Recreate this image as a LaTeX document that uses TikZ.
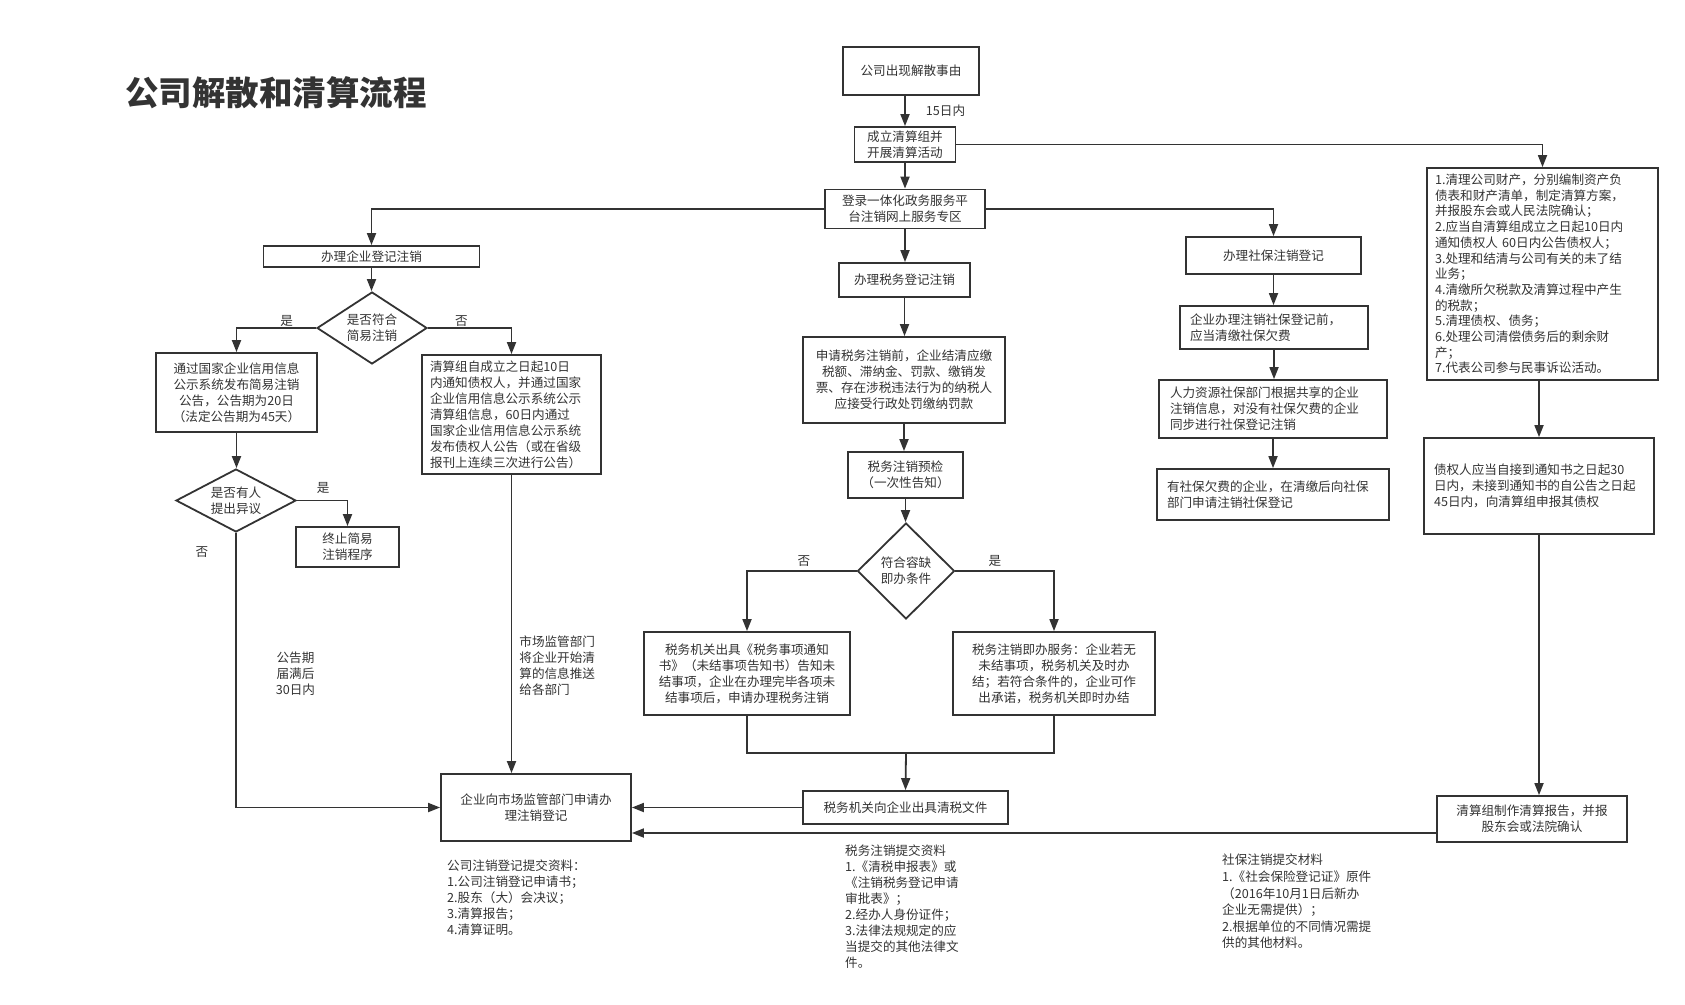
\documentclass[tikz,border=0pt]{standalone}
\usepackage{fontspec}
\newfontfamily\cjk{Noto Sans CJK SC}
\usetikzlibrary{shapes.geometric,positioning,arrows.meta}
\definecolor{ink}{HTML}{333333}
\newcommand{\boxfont}{\cjk\fontsize{12.6}{16}\selectfont}
\tikzset{>={Triangle[length=12pt,width=9pt]}}
\tikzset{
  box/.style={draw=ink, line width=1.8pt, fill=white, text=ink, font=\boxfont, inner xsep=4pt, inner ysep=2pt, align=center},
  lbox/.style={box, align=left},
  wh/.style 2 args={minimum width=#1pt, minimum height=#2pt},
  choice/.style={diamond, draw=ink, line width=1.8pt, fill=white, text=ink, font=\boxfont, inner sep=0pt, align=center},
  flow/.style={draw=ink, line width=1.8pt, ->},
  link/.style={draw=ink, line width=1.8pt},
  lbl/.style={text=ink, font=\boxfont, inner sep=1pt},
  note/.style={text=ink, font=\boxfont, align=left, inner sep=0pt, anchor=north west},
}

\begin{document}
\begin{tikzpicture}[x=1pt,y=-1pt]
\useasboundingbox (0,0) rectangle (1685,1004);

\node[text=ink, font=\cjk\bfseries\fontsize{33.5}{34}\selectfont] (title) at (276,93) {公司解散和清算流程};

\node[box, wh={136}{48}] (start) at (911,71) {公司出现解散事由};
\node[box, wh={101}{35}] (group) at (905,144.5) {成立清算组并\\开展清算活动};
\node[box, wh={160}{39}] (portal) at (905,209) {登录一体化政务服务平\\台注销网上服务专区};

\node[box, wh={216}{21}] (bizreg) at (371.5,256.5) {办理企业登记注销};
\node[choice, wh={110}{72}, aspect=1.5] (simple) at (372,328) {是否符合\\简易注销};
\node[box, wh={161}{79}] (notice) at (236.5,392.5) {通过国家企业信用信息\\公示系统发布简易注销\\公告，公告期为20日\\（法定公告期为45天）};
\node[lbox, text width=163pt, inner xsep=8pt, wh={179}{119}] (creditor) at (511.5,414.5) {清算组自成立之日起10日\\内通知债权人，并通过国家\\企业信用信息公示系统公示\\清算组信息，60日内通过\\国家企业信用信息公示系统\\发布债权人公告（或在省级\\报刊上连续三次进行公告）};
\node[choice, wh={120}{63}, aspect=1.9] (objection) at (236,500.5) {是否有人\\提出异议};
\node[box, wh={103}{40}] (stop) at (347.5,547) {终止简易\\注销程序};
\node[box, wh={190}{67}] (cancel) at (536,807.5) {企业向市场监管部门申请办\\理注销登记};

\node[box, wh={131}{34}] (tax) at (904.5,280) {办理税务登记注销};
\node[box, wh={202}{86}] (taxapply) at (904,380) {申请税务注销前，企业结清应缴\\税额、滞纳金、罚款、缴销发\\票、存在涉税违法行为的纳税人\\应接受行政处罚缴纳罚款};
\node[box, wh={115}{46}] (precheck) at (905.5,475) {税务注销预检\\（一次性告知）};
\node[choice, wh={97}{96}, aspect=1] (fast) at (906,571) {符合容缺\\即办条件};
\node[box, wh={206}{83}] (pending) at (747,673.5) {税务机关出具《税务事项通知\\书》（未结事项告知书）告知未\\结事项，企业在办理完毕各项未\\结事项后，申请办理税务注销};
\node[box, wh={202}{83}] (instant) at (1054,673.5) {税务注销即办服务：企业若无\\未结事项，税务机关及时办\\结；若符合条件的，企业可作\\出承诺，税务机关即时办结};
\coordinate (join) at (906,753);
\node[box, wh={205}{33}] (taxdoc) at (905.5,807.5) {税务机关向企业出具清税文件};

\node[box, wh={175}{37}] (social) at (1273.5,255.5) {办理社保注销登记};
\node[lbox, text width=168pt, inner xsep=10pt, wh={188}{43}] (arrears) at (1274,327.5) {企业办理注销社保登记前，\\应当清缴社保欠费};
\node[lbox, text width=206pt, inner xsep=11pt, wh={228}{58}] (hrsync) at (1273,409) {人力资源社保部门根据共享的企业\\注销信息，对没有社保欠费的企业\\同步进行社保登记注销};
\node[lbox, text width=212pt, inner xsep=10pt, wh={232}{51}] (owing) at (1273,494.5) {有社保欠费的企业，在清缴后向社保\\部门申请注销社保登记};

\node[lbox, text width=215pt, inner xsep=8pt, wh={231}{212}, font=\cjk\fontsize{12.6}{15.7}\selectfont] (duties) at (1542.5,274) {1.清理公司财产，分别编制资产负\\债表和财产清单，制定清算方案，\\并报股东会或人民法院确认；\\2.应当自清算组成立之日起10日内\\通知债权人 60日内公告债权人；\\3.处理和结清与公司有关的未了结\\业务；\\4.清缴所欠税款及清算过程中产生\\的税款；\\5.清理债权、债务；\\6.处理公司清偿债务后的剩余财\\产；\\7.代表公司参与民事诉讼活动。};
\node[lbox, text width=210pt, inner xsep=10pt, wh={230}{96}] (claim) at (1539,486) {债权人应当自接到通知书之日起30\\日内，未接到通知书的自公告之日起\\45日内，向清算组申报其债权};
\node[box, wh={190}{46}] (report) at (1532,819) {清算组制作清算报告，并报\\股东会或法院确认};

\draw[flow] (group.north |- start.south) -- node[lbl, right=19pt] {15日内} (group.north);
\draw[flow] (group.south) -- (group.south |- portal.north);
\draw[flow] (group.east) -| (duties.north);
\draw[flow] (portal.west) -| (bizreg.north);
\draw[flow] (portal.south) -- (portal.south |- tax.north);
\draw[flow] (portal.east) -| (social.north);

\draw[flow] (bizreg.south) -- (bizreg.south |- simple.north);
\draw[flow] (simple.west) -| node[lbl, pos=0.185, above=0pt] {是} (notice.north);
\draw[flow] (simple.east) -| node[lbl, pos=0.2, above=0pt] {否} (creditor.north);
\draw[flow] (notice.south) -- (notice.south |- objection.north);
\draw[flow] (objection.east) -| node[lbl, pos=0.26, above=5pt] {是} (stop.north);
\draw[flow] (objection.south) |- node[lbl, pos=0.035, left=26pt] {否}
  node[lbl, pos=0.256, right=38pt, align=center] {公告期\\届满后\\30日内} (cancel.west);
\draw[flow] (creditor.south) -- node[lbl, pos=0.64, right=6pt, align=left] {市场监管部门\\将企业开始清\\算的信息推送\\给各部门} (creditor.south |- cancel.north);

\draw[flow] (tax.south) -- (tax.south |- taxapply.north);
\draw[flow] (taxapply.south) -- (taxapply.south |- precheck.north);
\draw[flow] (precheck.south) -- (precheck.south |- fast.north);
\draw[flow] (fast.west) -| node[lbl, pos=0.24, above=3pt] {否} (pending.north);
\draw[flow] (fast.east) -| node[lbl, pos=0.2, above=3pt] {是} (instant.north);
\draw[link] (pending.south) |- (join) -| (instant.south);
\draw[flow] (join) -- (taxdoc.north);
\draw[flow] (taxdoc.west) -- (taxdoc.west -| cancel.east);

\draw[flow] (social.south) -- (social.south |- arrears.north);
\draw[flow] (arrears.south) -- (arrears.south |- hrsync.north);
\draw[flow] (hrsync.south) -- (hrsync.south |- owing.north);

\draw[flow] (claim.north |- duties.south) -- (claim.north);
\draw[flow] (claim.south) -- (claim.south |- report.north);
\draw[flow] ([yshift=-14pt]report.west) -- ([yshift=-14pt]report.west -| cancel.east);

\node[note] (regdocs) at (447,860) {公司注销登记提交资料：\\1.公司注销登记申请书；\\2.股东（大）会决议；\\3.清算报告；\\4.清算证明。};
\node[note] (taxdocs) at (845,845) {税务注销提交资料\\1.《清税申报表》或\\《注销税务登记申请\\审批表》；\\2.经办人身份证件；\\3.法律法规规定的应\\当提交的其他法律文\\件。};
\node[note, font=\cjk\fontsize{12.6}{16.6}\selectfont] (socialdocs) at (1222,854) {社保注销提交材料\\1.《社会保险登记证》原件\\（2016年10月1日后新办\\企业无需提供）；\\2.根据单位的不同情况需提\\供的其他材料。};
\end{tikzpicture}
\end{document}
